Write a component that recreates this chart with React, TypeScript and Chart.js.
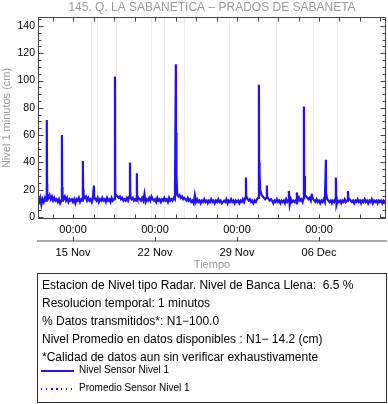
import React, { useEffect, useRef } from 'react';
import { Chart, registerables } from 'chart.js';

Chart.register(...registerables);

const FONT = '"Liberation Sans", Arial, Helvetica, sans-serif';

// ---- data ----
const chartTitle = '145. Q. LA SABANETICA \u2013 PRADOS DE SABANETA';
const yAxisTitle = 'Nivel 1 minutos (cm)';
const xAxisTitle = 'Tiempo';
// x in days relative to 15 Nov 00:00
const X_MIN = -2.99;
const X_MAX = 26.72;
const Y_MIN = -1.5;
const Y_MAX = 146.6;
const xTickDays = [0, 7, 14, 21];
const xTimeLabels = ['00:00', '00:00', '00:00', '00:00'];
const xDateLabels = ['15 Nov', '22 Nov', '29 Nov', '06 Dec'];
const yTickValues = [0, 20, 40, 60, 80, 100, 120, 140];
const gridDays = [1.54, 2.13, 3.67, 6.74, 7.77, 9.48, 13.32, 17.33, 20.49, 22.54];

// baseline level, one value every 0.1 day starting at -3.0
const baseStart = -3.0;
const baseStep = 0.1;
const baseLevel = [
  13, 11, 14, 9, 13, 11, 14, 12, 17, 14,
  16, 13, 15, 12, 14, 12, 13, 11, 13, 10,
  12, 16, 13, 15, 12, 14, 11, 13, 12, 13,
  11, 13, 10, 13, 12, 14, 11, 13, 12, 16,
  14, 15, 12, 14, 12, 13, 11, 14, 15, 13,
  12, 14, 11, 13, 12, 14, 12, 13, 11, 14,
  12, 13, 11, 14, 12, 13, 17, 16, 15, 14,
  15, 13, 14, 12, 13, 12, 14, 12, 15, 14,
  13, 14, 12, 13, 12, 15, 14, 13, 12, 14,
  12, 17, 11, 13, 12, 14, 12, 15, 13, 12,
  13, 11, 14, 12, 13, 11, 13, 12, 14, 12,
  13, 11, 14, 12, 13, 12, 14, 13, 17, 16,
  15, 16, 14, 15, 13, 14, 13, 12, 14, 12,
  13, 11, 12, 10, 16, 11, 13, 11, 12, 10,
  12, 11, 13, 11, 12, 10, 12, 11, 13, 11,
  12, 10, 12, 11, 13, 11, 12, 10, 11, 12,
  11, 13, 10, 12, 11, 13, 11, 12, 10, 12,
  11, 12, 10, 12, 11, 13, 11, 14, 15, 13,
  12, 13, 11, 12, 10, 12, 11, 13, 14, 18,
  20, 16, 15, 14, 13, 14, 15, 13, 12, 13,
  12, 10, 12, 11, 13, 11, 12, 10, 12, 11,
  12, 10, 13, 11, 12, 9, 13, 11, 12, 11,
  12, 10, 12, 14, 12, 13, 11, 14, 16, 15,
  14, 13, 14, 12, 15, 13, 12, 11, 13, 11,
  12, 10, 12, 11, 13, 11, 14, 13, 12, 11,
  12, 10, 12, 11, 13, 9, 12, 11, 12, 10,
  12, 11, 13, 11, 12, 14, 13, 12, 11, 12,
  10, 12, 11, 13, 11, 12, 10, 12, 11, 13,
  11, 12, 10, 12, 11, 13, 10, 12, 11, 12,
  10, 12, 11, 12, 10, 12, 11, 12,
];

// level events (spikes)
const spikeDays = [
  -2.24, -2.215, -0.95, -0.93, 0.84, 0.865, 1.785, 3.58, 3.595, 4.86, 4.88,
  5.45, 5.47, 8.78, 8.8, 8.83, 8.86, 14.76, 14.78, 15.87, 15.89, 15.95, 15.97,
  16.55, 16.57, 18.43, 19.11, 19.71, 19.73, 20.39, 21.59, 21.61, 22.44, 22.46, 23.47,
];
const spikeValues = [
  71, 24, 60, 22, 41, 20, 23, 103, 30, 40, 18,
  32, 16, 112, 62, 58, 30, 29, 16, 97, 40, 32, 20,
  23, 15, 19, 18, 81, 30, 17, 42, 17, 29, 15, 19,
];

const infoLines = [
  'Estacion de Nivel tipo Radar. Nivel de Banca Llena:  6.5 %',
  'Resolucion temporal: 1 minutos',
  '% Datos transmitidos*: N1\u2212100.0',
  'Nivel Promedio en datos disponibles : N1\u2212 14.2 (cm)',
  '*Calidad de datos aun sin verificar exhaustivamente',
];
const seriesLabel = 'Nivel Sensor Nivel 1';
const meanLabel = 'Promedio Sensor Nivel 1';

const LINE_COLOR = 'rgb(34,17,245)';
const X_MINOR_START = -1.75;
const X_MINOR_STEP = 1.75;
const Y_MINOR_STEP = 5;
const Y_MAJOR_STEP = 20;

export default function App() {
  const ref = useRef<HTMLCanvasElement>(null);

  useEffect(() => {
    document.body.style.margin = '0';
    const pts: { x: number; y: number }[] = baseLevel.map((v, i) => ({ x: baseStart + i * baseStep, y: v }));
    spikeDays.forEach((d, i) => pts.push({ x: d, y: spikeValues[i] }));
    pts.sort((a, b) => a.x - b.x);

    const frameTicks = {
      id: 'frameTicks',
      afterDatasetsDraw(chart: any) {
        const { ctx, chartArea: a, scales } = chart;
        const xs = scales.x;
        const ys = scales.y;
        const L = Math.round(a.left) + 0.5;
        const R = Math.round(a.right) - 0.5;
        const T = Math.round(a.top) + 0.5;
        const B = Math.round(a.bottom) - 0.5;
        ctx.save();
        ctx.strokeStyle = '#444';
        ctx.lineWidth = 1;
        ctx.beginPath();
        for (let i = 0; ; i++) {
          const d = X_MINOR_START + i * X_MINOR_STEP;
          if (d > X_MAX) break;
          if (d < X_MIN) continue;
          const px = Math.round(xs.getPixelForValue(d)) + 0.5;
          ctx.moveTo(px, B); ctx.lineTo(px, B - 4);
          ctx.moveTo(px, T); ctx.lineTo(px, T + 4);
        }
        for (let i = 0; ; i++) {
          const v = i * Y_MINOR_STEP;
          if (v > Y_MAX) break;
          const py = Math.round(ys.getPixelForValue(v)) + 0.5;
          const len = v % Y_MAJOR_STEP === 0 ? 5 : 3;
          ctx.moveTo(L, py); ctx.lineTo(L + len, py);
          ctx.moveTo(R, py); ctx.lineTo(R - len, py);
        }
        const x2 = scales.x2;
        xTickDays.forEach((d) => {
          const px = Math.round(xs.getPixelForValue(d)) + 0.5;
          ctx.moveTo(px, x2.top - 4); ctx.lineTo(px, x2.top);
        });
        ctx.stroke();
        ctx.strokeRect(L, T, R - L, B - T);
        ctx.restore();
      },
    };

    const chart = new Chart(ref.current as HTMLCanvasElement, {
      type: 'line',
      data: {
        datasets: [
          {
            label: seriesLabel,
            data: pts,
            borderColor: LINE_COLOR,
            borderWidth: 2.2,
            pointRadius: 0,
            tension: 0,
            fill: false,
          },
        ],
      },
      plugins: [frameTicks],
      options: {
        animation: false,
        responsive: false,
        devicePixelRatio: 1,
        layout: { padding: { top: 0, left: 0, right: 2, bottom: 131 } },
        font: { family: FONT },
        plugins: {
          legend: { display: false },
          tooltip: { enabled: false },
          title: {
            display: true,
            text: chartTitle,
            color: '#9a9a9a',
            fullSize: false,
            font: { family: FONT, size: 12, weight: 'normal', lineHeight: 1 },
            padding: { top: 2, bottom: 3 },
          },
        },
        scales: {
          x: {
            type: 'linear',
            position: 'bottom',
            weight: 0,
            min: X_MIN,
            max: X_MAX,
            afterBuildTicks: (s: any) => { s.ticks = xTickDays.map((v) => ({ value: v })); },
            afterFit: (s: any) => { s.height = 22; },
            grid: { display: false, drawTicks: false },
            border: { display: false },
            ticks: {
              autoSkip: false,
              maxRotation: 0,
              color: '#000',
              padding: 4,
              font: { family: FONT, size: 11 },
              callback: (_v: any, i: number) => xTimeLabels[i],
            },
          },
          x2: {
            type: 'linear',
            position: 'bottom',
            weight: 1,
            min: X_MIN,
            max: X_MAX,
            afterBuildTicks: (s: any) => { s.ticks = xTickDays.map((v) => ({ value: v })); },
            afterFit: (s: any) => { s.height = 32; },
            grid: { display: true, drawOnChartArea: false, drawTicks: false, color: 'rgba(0,0,0,0)' },
            border: { display: true, color: '#aaaaaa', width: 2 },
            ticks: {
              autoSkip: false,
              maxRotation: 0,
              color: '#000',
              padding: 5,
              font: { family: FONT, size: 11 },
              callback: (_v: any, i: number) => xDateLabels[i],
            },
            title: {
              display: true,
              text: xAxisTitle,
              color: '#9a9a9a',
              font: { family: FONT, size: 11 },
              padding: { top: 0, bottom: 1 },
            },
          },
          xg: {
            type: 'linear',
            position: 'top',
            min: X_MIN,
            max: X_MAX,
            afterBuildTicks: (s: any) => { s.ticks = gridDays.map((v) => ({ value: v })); },
            afterFit: (s: any) => { s.height = 0; },
            grid: { display: true, drawTicks: false, color: '#ebebeb', lineWidth: 1 },
            border: { display: false },
            ticks: { display: false },
          },
          y: {
            type: 'linear',
            position: 'left',
            min: Y_MIN,
            max: Y_MAX,
            afterBuildTicks: (s: any) => { s.ticks = yTickValues.map((v) => ({ value: v })); },
            afterFit: (s: any) => { s.width = 38; },
            grid: { display: false, drawTicks: false },
            border: { display: false },
            ticks: { color: '#000', padding: 3, font: { family: FONT, size: 10.5 } },
            title: {
              display: true,
              text: yAxisTitle,
              color: '#9a9a9a',
              font: { family: FONT, size: 11 },
              padding: { top: 0.5, bottom: 0 },
            },
          },
        },
      } as any,
    });
    return () => chart.destroy();
  }, []);

  return (
    <div style={{ position: 'relative', width: 388, height: 404, fontFamily: FONT }}>
      <canvas ref={ref} width={388} height={404} style={{ position: 'absolute', left: 0, top: 0, width: 388, height: 404 }} />
      <div
        style={{
          position: 'absolute', left: 37, top: 273, width: 350, height: 130,
          boxSizing: 'border-box', border: '1px solid #333', background: 'transparent',
        }}
      >
        {infoLines.map((t, i) => (
          <div key={i} style={{ position: 'absolute', left: 4, top: 2 + i * 18, height: 18, lineHeight: '18px', fontSize: 12, color: '#000', whiteSpace: 'pre' }}>{t}</div>
        ))}
        <div style={{ position: 'absolute', left: 3, top: 96, width: 33, height: 1.5, background: LINE_COLOR }} />
        <div style={{ position: 'absolute', left: 41, top: 87, lineHeight: '18px', fontSize: 10, color: '#000', whiteSpace: 'pre' }}>{seriesLabel}</div>
        <div style={{ position: 'absolute', left: 3, top: 114, width: 33, height: 1.5, background: `repeating-linear-gradient(to right, ${LINE_COLOR} 0px, ${LINE_COLOR} 1.5px, transparent 1.5px, transparent 5px)` }} />
        <div style={{ position: 'absolute', left: 41, top: 105, lineHeight: '18px', fontSize: 10, color: '#000', whiteSpace: 'pre' }}>{meanLabel}</div>
      </div>
    </div>
  );
}
